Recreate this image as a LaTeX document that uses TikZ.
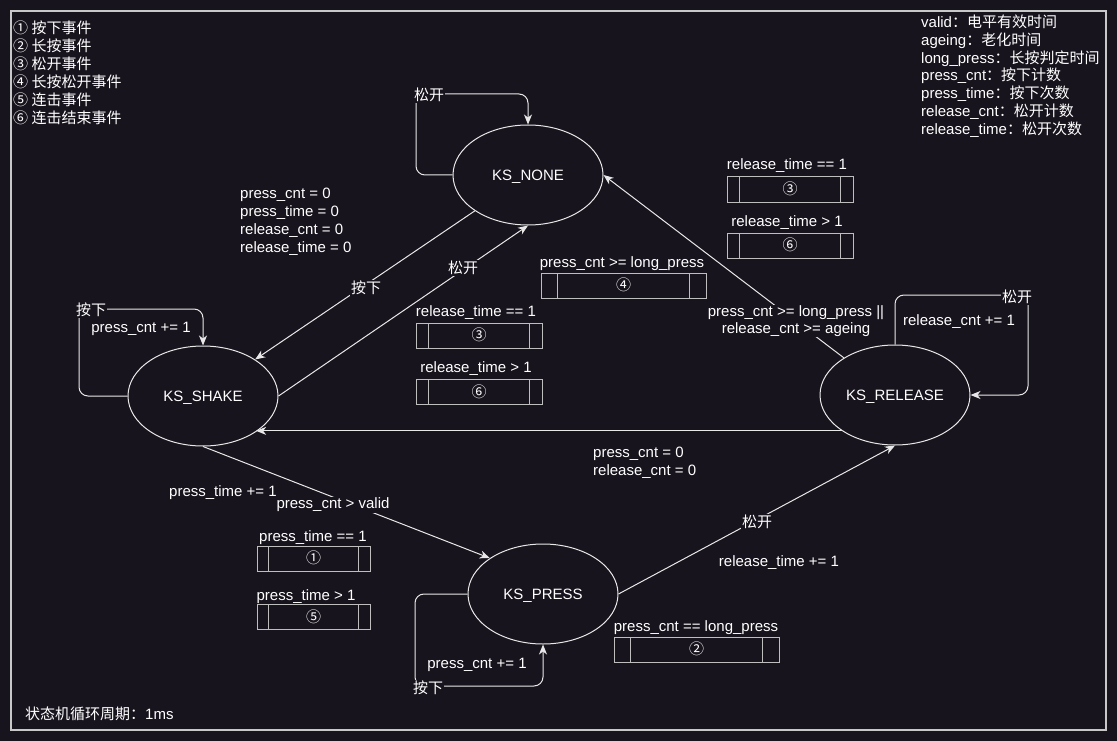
\documentclass[tikz,border=0pt]{standalone}
\usepackage{fontspec}
\setmainfont{Liberation Sans}
\newfontfamily\cjk{Noto Sans CJK SC}
\usetikzlibrary{shapes.geometric,arrows.meta,calc}
\definecolor{bg}{RGB}{24,20,29}
\definecolor{ln}{RGB}{232,232,232}
\definecolor{bx}{RGB}{190,190,190}
\definecolor{frm}{RGB}{200,200,200}
\newcommand\zh[1]{{\cjk #1}}
\begin{document}
\begin{tikzpicture}[x=1pt,y=-1pt,
  font=\fontsize{15}{18}\selectfont,
  state/.style={ellipse, draw=ln, line width=1pt, minimum width=150pt, minimum height=100pt, inner sep=0pt, text=white, text height=11pt, text depth=0pt},
  conn/.style={draw=ln, line width=1pt, rounded corners=9pt, -{Stealth[length=10pt,width=8pt,inset=3pt]}},
  lbl/.style={text=white, inner sep=1pt, yshift=-2pt},
  onl/.style={lbl, fill=bg},
  procbox/.style={draw=bx, line width=1pt, fill=bg, minimum height=25pt, inner sep=0pt, text=white, text height=11pt, text depth=1pt,
    path picture={\draw[bx, line width=1pt]
      ($(path picture bounding box.south west)!0.1!(path picture bounding box.south east)$) --
      ($(path picture bounding box.north west)!0.1!(path picture bounding box.north east)$)
      ($(path picture bounding box.south west)!0.9!(path picture bounding box.south east)$) --
      ($(path picture bounding box.north west)!0.9!(path picture bounding box.north east)$);}}
]
\fill[bg] (0,0) rectangle (1117,741);
\useasboundingbox (0,0) rectangle (1117,741);
\draw[frm, line width=1.5pt] (11,11) rectangle (1106,730);

% states
\node[state] (none) at (528,175) {KS\_NONE};
\node[state] (shake) at (203,396) {KS\_SHAKE};
\node[state] (press) at (543,594) {KS\_PRESS};
\node[state] (release) at (895,395) {KS\_RELEASE};

% loop corner coordinates
\coordinate (nl) at (416,94);
\coordinate (sl) at (79,309);
\coordinate (pl) at (415,686);
\coordinate (rl) at (1028,295);

% connectors
\draw[conn] (none.west) -| (nl) -| (none.north);
\draw[conn] (shake.west) -| (sl) -| (shake.north);
\draw[conn] (press.west) -| (pl) -| (press.south);
\draw[conn] (release.north) |- (rl) |- (release.east);
\draw[conn] (none.214) -- (shake.35);
\draw[conn] (shake.east) -- (none.south);
\draw[conn] (shake.south) -- (press.146);
\draw[conn] (press.east) -- (release.south);
\draw[conn] (release.214) -- (shake.326 |- release.214);
\draw[conn] (release.144) -- (none.east);

% connector labels
\node[onl] (l1) at (429,93) {\zh{松开}};
\node[onl] (l2) at (91,308) {\zh{按下}};
\node[lbl] (l3) at (141,327) {press\_cnt += 1};
\node[onl] (l4) at (428,686) {\zh{按下}};
\node[lbl] (l5) at (477,663) {press\_cnt += 1};
\node[onl] (l6) at (1017,295) {\zh{松开}};
\node[lbl] (l7) at (959,320) {release\_cnt += 1};
\node[onl] (l8) at (366,286) {\zh{按下}};
\node[onl] (l9) at (463,266) {\zh{松开}};
\node[onl] (l10) at (333,503) {press\_cnt > valid};
\node[lbl] (l11) at (223,491) {press\_time += 1};
\node[onl] (l12) at (757,520) {\zh{松开}};
\node[lbl] (l13) at (779,561) {release\_time += 1};
\node[lbl, align=left, anchor=west, inner sep=0pt] (l14) at (593,461) {press\_cnt = 0\\release\_cnt = 0};
\node[onl, align=center, font=\fontsize{15}{17}\selectfont] (l15) at (796,319) {press\_cnt >= long\_press ||\\release\_cnt >= ageing};
\node[lbl, align=left, anchor=west, inner sep=0pt] (l16) at (240,220) {press\_cnt = 0\\press\_time = 0\\release\_cnt = 0\\release\_time = 0};

% process boxes
\node[procbox, minimum width=126pt] (b3a) at (790,189.5) {\zh{③}};
\node[procbox, minimum width=126pt] (b6a) at (790,245.5) {\zh{⑥}};
\node[procbox, minimum width=165pt] (b4) at (623.5,285.5) {\zh{④}};
\node[procbox, minimum width=126pt] (b3b) at (479,335.5) {\zh{③}};
\node[procbox, minimum width=126pt] (b6b) at (479,392) {\zh{⑥}};
\node[procbox, minimum width=113pt] (b1) at (313.5,558.5) {\zh{①}};
\node[procbox, minimum width=113pt] (b5) at (313.5,617) {\zh{⑤}};
\node[procbox, minimum width=165pt] (b2) at (696.5,649.5) {\zh{②}};

\node[lbl] (t3a) at (787,164) {release\_time == 1};
\node[lbl] (t6a) at (787,221) {release\_time > 1};
\node[lbl] (t4) at (622,262) {press\_cnt >= long\_press};
\node[lbl] (t3b) at (476,311) {release\_time == 1};
\node[lbl] (t6b) at (476,367) {release\_time > 1};
\node[lbl] (t1) at (313,536) {press\_time == 1};
\node[lbl] (t5) at (306,595) {press\_time > 1};
\node[lbl] (t2) at (696,626) {press\_cnt == long\_press};

% legends
\node[lbl, align=left, anchor=west, inner sep=0pt, yshift=1pt] (leg1) at (13,72) {\zh{① 按下事件}\\\zh{② 长按事件}\\\zh{③ 松开事件}\\\zh{④ 长按松开事件}\\\zh{⑤ 连击事件}\\\zh{⑥ 连击结束事件}};
\node[lbl, align=left, anchor=west, inner sep=0pt, font=\fontsize{15}{17.8}\selectfont] (leg2) at (921,74) {valid\zh{：电平有效时间}\\ageing\zh{：老化时间}\\long\_press\zh{：长按判定时间}\\press\_cnt\zh{：按下计数}\\press\_time\zh{：按下次数}\\release\_cnt\zh{：松开计数}\\release\_time\zh{：松开次数}};
\node[lbl, anchor=west, inner sep=0pt] (foot) at (25,712) {\zh{状态机循环周期：}1ms};
\end{tikzpicture}
\end{document}
